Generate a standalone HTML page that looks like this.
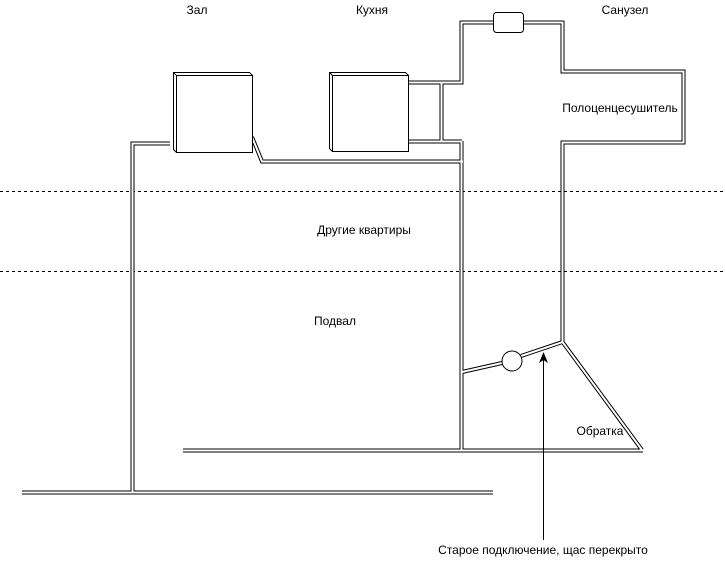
<!DOCTYPE html>
<html><head><meta charset="utf-8"><style>
html,body{margin:0;padding:0;background:#fff;}
svg{display:block;}
text{font-family:"Liberation Sans",Arial,sans-serif;font-size:12px;fill:#000;}
</style></head><body>
<svg width="725" height="564" viewBox="0 0 725 564" xmlns="http://www.w3.org/2000/svg">
<line x1="0" y1="191.5" x2="725" y2="191.5" stroke="#000" stroke-dasharray="3,3"/>
<line x1="0" y1="271.5" x2="725" y2="271.5" stroke="#000" stroke-dasharray="3,3"/>
<g fill="none" stroke-linejoin="miter">
<g id="p" stroke="#000" stroke-width="4">
<polyline points="170,143.5 132.5,143.5 132.5,492"/>
<polyline points="252,137 262,161.5 463,161.5"/>
<polyline points="408,82.5 461.5,82.5 461.5,22.5 493,22.5"/>
<polyline points="523,22.5 562.5,22.5 562.5,71.5 683.5,71.5 683.5,142.5 562.5,142.5 562.5,342"/>
<line x1="408" y1="141.5" x2="462" y2="141.5"/>
<line x1="441.5" y1="82" x2="441.5" y2="142"/>
<line x1="461.5" y1="141" x2="461.5" y2="451"/>
<line x1="183" y1="450.5" x2="643" y2="450.5"/>
<line x1="22" y1="492.5" x2="493" y2="492.5"/>
<polyline points="462,372 502,363"/>
<polyline points="521,356 562.5,342 642,450"/>
</g>
<g stroke="#fff" stroke-width="2">
<polyline points="170,143.5 132.5,143.5 132.5,492"/>
<polyline points="252,137 262,161.5 463,161.5"/>
<polyline points="408,82.5 461.5,82.5 461.5,22.5 493,22.5"/>
<polyline points="523,22.5 562.5,22.5 562.5,71.5 683.5,71.5 683.5,142.5 562.5,142.5 562.5,342"/>
<line x1="408" y1="141.5" x2="462" y2="141.5"/>
<line x1="441.5" y1="82" x2="441.5" y2="142"/>
<line x1="461.5" y1="141" x2="461.5" y2="451"/>
<line x1="183" y1="450.5" x2="643" y2="450.5"/>
<line x1="22" y1="492.5" x2="493" y2="492.5"/>
<polyline points="462,372 502,363"/>
<polyline points="521,356 562.5,342 642,450"/>
</g>
</g>
<!-- radiators -->
<g stroke="#000" fill="#fff" stroke-width="1">
<polygon points="173.5,72.5 249.5,72.5 252.5,75.5 252.5,152.5 176.5,152.5 173.5,149.5"/>
<rect x="176.5" y="75.5" width="76" height="77"/>
<line x1="173.5" y1="72.5" x2="176.5" y2="75.5"/>
<polygon points="329.5,72.5 405.5,72.5 408.5,75.5 408.5,151.5 332.5,151.5 329.5,148.5"/>
<rect x="332.5" y="75.5" width="76" height="76"/>
<line x1="329.5" y1="72.5" x2="332.5" y2="75.5"/>
<rect x="493.5" y="12.5" width="30" height="20" rx="3"/>
<circle cx="512" cy="361" r="10"/>
</g>
<line x1="543.5" y1="540" x2="543.5" y2="360" stroke="#000"/>
<polygon points="543.5,352 539,363 543.5,360 548,363" fill="#000"/>
<text x="197" y="14" text-anchor="middle">Зал</text>
<text x="372" y="14" text-anchor="middle">Кухня</text>
<text x="625" y="14" text-anchor="middle">Санузел</text>
<text x="620" y="112" text-anchor="middle">Полоценцесушитель</text>
<text x="364" y="234" text-anchor="middle">Другие квартиры</text>
<text x="335" y="325" text-anchor="middle">Подвал</text>
<text x="600" y="435" text-anchor="middle">Обратка</text>
<text x="543" y="554" text-anchor="middle">Старое подключение, щас перекрыто</text>
</svg>
</body></html>
